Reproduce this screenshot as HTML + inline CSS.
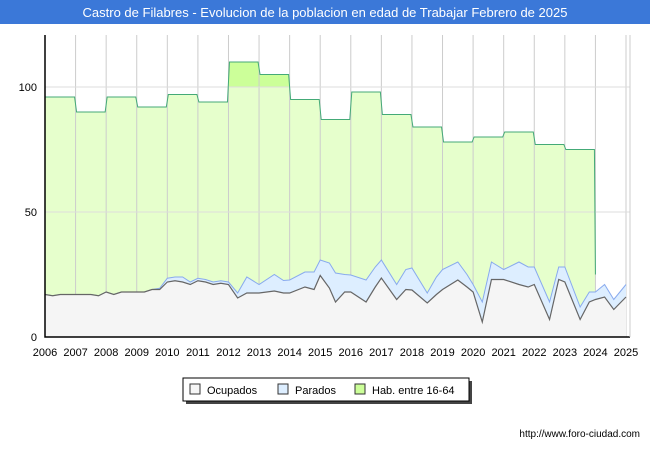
<!DOCTYPE html>
<html><head><meta charset="utf-8"><style>
body{margin:0;width:650px;height:450px;background:#fff;font-family:"Liberation Sans",sans-serif;overflow:hidden}
</style></head><body>
<svg id="chart" width="650" height="450" xmlns="http://www.w3.org/2000/svg" font-family="Liberation Sans, sans-serif">
<rect x="0" y="0" width="650" height="24" fill="#3b78d8"/>
<text x="325" y="17" text-anchor="middle" font-size="13" fill="#fff">Castro de Filabres - Evolucion de la poblacion en edad de Trabajar Febrero de 2025</text>
<g id="plot"></g>
<g>
<rect x="186" y="381" width="286" height="23" fill="#444"/>
<rect x="183" y="378" width="286" height="23" fill="#fff" stroke="#000" stroke-width="1"/>
<rect x="190" y="384" width="10" height="10" fill="#f5f5f5" stroke="#333"/>
<text x="207" y="394" font-size="11">Ocupados</text>
<rect x="278" y="384" width="10" height="10" fill="#ddeeff" stroke="#333"/>
<text x="295" y="394" font-size="11">Parados</text>
<rect x="355" y="384" width="10" height="10" fill="#ccff99" stroke="#333"/>
<text x="372" y="394" font-size="11">Hab. entre 16-64</text>
</g>
<text x="640" y="437" text-anchor="end" font-size="10">http://www.foro-ciudad.com</text>
</svg>
<script>
const years=[2006,2007,2008,2009,2010,2011,2012,2013,2014,2015,2016,2017,2018,2019,2020,2021,2022,2023];
const hab=[96,90,96,92,97,94,110,105,95,87,98,89,84,78,80,82,77,75];
const times=[2006,2006.25,2006.5,2006.75,2007,2007.25,2007.5,2007.75,2008,2008.25,2008.5,2008.75,2009,2009.25,2009.5,2009.75,2010,2010.25,2010.5,2010.75,2011,2011.25,2011.5,2011.75,2012,2012.3,2012.6,2013,2013.5,2013.8,2014,2014.5,2014.8,2015,2015.3,2015.5,2015.8,2016,2016.5,2016.8,2017,2017.5,2017.8,2018,2018.5,2018.8,2019,2019.5,2019.8,2020,2020.3,2020.6,2021,2021.5,2021.8,2022,2022.5,2022.8,2023,2023.5,2023.8,2024,2024.3,2024.6,2025];
const ocupados=[17,16.5,17,17,17,17,17,16.5,18,17,18,18,18,18,19,19,22,22.5,22,21,22.5,22,21,21.5,21,15.6,17.6,17.6,18.4,17.6,17.6,20,19,24.6,19.6,14,18,18,14,20,23.6,15,19,18.8,13.6,17,19,22.8,20,18,6,23,23,21,20,21,7,23,22,7,14,15,16,11,16];
const parados=[0,0,0,0,0,0,0,0,0,0,0,0,0,0,0,0.5,1.5,1.5,2,1,1,1,1,1,1,2,6.4,3.4,6.6,5,5.2,6,7,6.2,10,11.6,7,6.8,8.8,8,7.2,6,8,8.8,4,7,8,7.2,5,3,8,7,4,9,8,7,7,5,6,5,4,3,5,4,5];
const X0=45,X1=626,Y0=337,PT=35,PR=630;
const xs=t=>X0+(t-2006)*(X1-X0)/19;
const ys=v=>Y0-v*2.5;
const NS='http://www.w3.org/2000/svg';
const plot=document.getElementById('plot');
function mk(tag,attrs){const e=document.createElementNS(NS,tag);for(const k in attrs)e.setAttribute(k,attrs[k]);plot.appendChild(e);return e;}
// hab area
let hp=[];
years.forEach((y,i)=>{hp.push([xs(y)+(i?1:0),ys(hab[i])]);hp.push([xs(y+1)-1,ys(hab[i])]);});
const last=years[years.length-1]+1;
hp.push([xs(last),ys(25)]);
let hd='M'+xs(2006)+','+Y0+' '+hp.map(p=>'L'+p[0]+','+p[1]).join(' ')+' L'+xs(last)+','+Y0+'Z';
let habArea=mk('path',{d:hd,fill:'#e6ffcc'});


let clip=mk('clipPath',{id:'above'});
clip.appendChild(document.createElementNS(NS,'rect'));
clip.firstChild.setAttribute('x',0);clip.firstChild.setAttribute('y',0);clip.firstChild.setAttribute('width',650);clip.firstChild.setAttribute('height',ys(100));
let habHigh=mk('path',{d:hd,fill:'#ccff99','clip-path':'url(#above)'});


// grid
for(let y=2006;y<=2025;y++){let l=mk('line',{x1:xs(y),x2:xs(y),y1:PT,y2:Y0,stroke:'#ccc','stroke-width':1});

}
[50,100].forEach(v=>{let l=mk('line',{x1:X0,x2:PR,y1:ys(v),y2:ys(v),stroke:'#ddd'});

});
let habLine=mk('path',{d:'M'+hp.map(p=>p[0]+','+p[1]).join(' L'),fill:'none',stroke:'#44aa77','stroke-width':1});


// parados (total) and ocupados
const tot=times.map((t,i)=>[xs(t),ys(ocupados[i]+parados[i])]);
const oc=times.map((t,i)=>[xs(t),ys(ocupados[i])]);
const line=a=>a.map(p=>p[0]+','+p[1]).join(' L');
let pa=mk('path',{d:'M'+xs(2006)+','+Y0+' L'+line(tot)+' L'+xs(2025)+','+Y0+'Z',fill:'#ddeeff'});


let pl=mk('path',{d:'M'+line(tot),fill:'none',stroke:'#88aaee','stroke-width':1});


let oa=mk('path',{d:'M'+xs(2006)+','+Y0+' L'+line(oc)+' L'+xs(2025)+','+Y0+'Z',fill:'#f5f5f5'});


let ol=mk('path',{d:'M'+line(oc),fill:'none',stroke:'#666','stroke-width':1.2});


// frame
let fr=mk('path',{d:'M'+X0+','+PT+' L'+X0+','+Y0+' L'+PR+','+Y0,fill:'none',stroke:'#000','stroke-width':1.5});


let rf=mk('line',{x1:PR,x2:PR,y1:PT,y2:Y0,stroke:'#ccc'});


// ticks
const yTicks=[0,50,100];
yTicks.forEach(v=>{let t=mk('text',{x:37,y:ys(v)+4,'text-anchor':'end','font-size':11});t.textContent=v;

});
for(let y=2006;y<=2025;y++){let t=mk('text',{x:xs(y),y:356,'text-anchor':'middle','font-size':11});t.textContent=y;

}
</script>
</body></html>
